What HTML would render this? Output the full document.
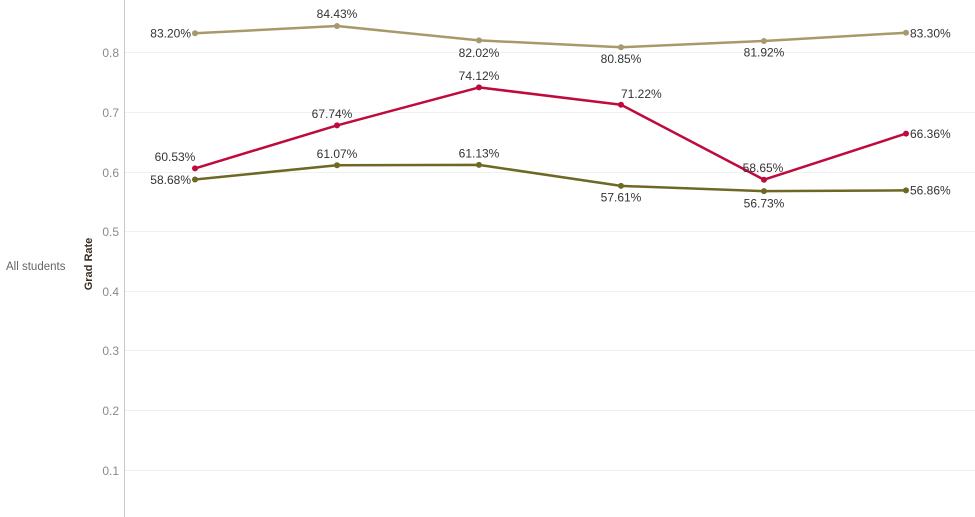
<!DOCTYPE html>
<html>
<head>
<meta charset="utf-8">
<style>
html,body{margin:0;padding:0;background:#fff;}
body{width:975px;height:517px;overflow:hidden;}
svg{display:block;font-family:"Liberation Sans",sans-serif;}
</style>
</head>
<body>
<svg width="975" height="517" viewBox="0 0 975 517" xmlns="http://www.w3.org/2000/svg">
  <!-- gridlines -->
  <g stroke="#f0f0f0" stroke-width="1">
    <line x1="125" y1="52.5" x2="975" y2="52.5"/>
    <line x1="125" y1="112.5" x2="975" y2="112.5"/>
    <line x1="125" y1="172.5" x2="975" y2="172.5"/>
    <line x1="125" y1="231.5" x2="975" y2="231.5"/>
    <line x1="125" y1="291.5" x2="975" y2="291.5"/>
    <line x1="125" y1="350.5" x2="975" y2="350.5"/>
    <line x1="125" y1="410.5" x2="975" y2="410.5"/>
    <line x1="125" y1="470.5" x2="975" y2="470.5"/>
  </g>
  <!-- axis -->
  <line x1="124.5" y1="0" x2="124.5" y2="517" stroke="#c8c8c8" stroke-width="1"/>
  <!-- tick labels -->
  <g fill="#8a8a8a" font-size="12" text-anchor="end">
    <text x="119" y="57">0.8</text>
    <text x="119" y="117">0.7</text>
    <text x="119" y="177">0.6</text>
    <text x="119" y="236">0.5</text>
    <text x="119" y="296">0.4</text>
    <text x="119" y="355">0.3</text>
    <text x="119" y="415">0.2</text>
    <text x="119" y="475">0.1</text>
  </g>
  <text x="6" y="270" fill="#666" font-size="11.5">All students</text>
  <text transform="translate(92,264) rotate(-90)" text-anchor="middle" fill="#3a2e22" font-size="11" font-weight="bold">Grad Rate</text>

  <!-- tan series -->
  <polyline fill="none" stroke="#a8996b" stroke-width="2.5" stroke-linejoin="round"
    points="195,33.3 337,26.0 479,40.4 621,47.3 764,41.0 906,32.7"/>
  <g fill="#a8996b">
    <circle cx="195" cy="33.3" r="3"/><circle cx="337" cy="26.0" r="3"/><circle cx="479" cy="40.4" r="3"/>
    <circle cx="621" cy="47.3" r="3"/><circle cx="764" cy="41.0" r="3"/><circle cx="906" cy="32.7" r="3"/>
  </g>
  <!-- olive series -->
  <polyline fill="none" stroke="#6e6825" stroke-width="2.5" stroke-linejoin="round"
    points="195,179.5 337,165.2 479,164.9 621,185.9 764,191.1 906,190.4"/>
  <g fill="#6e6825">
    <circle cx="195" cy="179.5" r="3"/><circle cx="337" cy="165.2" r="3"/><circle cx="479" cy="164.9" r="3"/>
    <circle cx="621" cy="185.9" r="3"/><circle cx="764" cy="191.1" r="3"/><circle cx="906" cy="190.4" r="3"/>
  </g>
  <!-- red series -->
  <polyline fill="none" stroke="#be0a3c" stroke-width="2.5" stroke-linejoin="round"
    points="195,168.4 337,125.4 479,87.4 621,104.7 764,179.7 906,133.6"/>
  <g fill="#be0a3c">
    <circle cx="195" cy="168.4" r="3"/><circle cx="337" cy="125.4" r="3"/><circle cx="479" cy="87.4" r="3"/>
    <circle cx="621" cy="104.7" r="3"/><circle cx="764" cy="179.7" r="3"/><circle cx="906" cy="133.6" r="3"/>
  </g>

  <!-- labels -->
  <g fill="#333" font-size="12">
    <!-- tan -->
    <text x="191" y="37.5" text-anchor="end">83.20%</text>
    <text x="337" y="18" text-anchor="middle">84.43%</text>
    <text x="479" y="57" text-anchor="middle">82.02%</text>
    <text x="621" y="63" text-anchor="middle">80.85%</text>
    <text x="764" y="56.5" text-anchor="middle">81.92%</text>
    <text x="910" y="37.5">83.30%</text>
    <!-- red -->
    <text x="175" y="161" text-anchor="middle">60.53%</text>
    <text x="332" y="118" text-anchor="middle">67.74%</text>
    <text x="479" y="80" text-anchor="middle">74.12%</text>
    <text x="621" y="98">71.22%</text>
    <text x="763" y="172" text-anchor="middle">58.65%</text>
    <text x="910" y="138">66.36%</text>
    <!-- olive -->
    <text x="191" y="184" text-anchor="end">58.68%</text>
    <text x="337" y="158" text-anchor="middle">61.07%</text>
    <text x="479" y="157.5" text-anchor="middle">61.13%</text>
    <text x="621" y="201.5" text-anchor="middle">57.61%</text>
    <text x="764" y="207.5" text-anchor="middle">56.73%</text>
    <text x="910" y="194.5">56.86%</text>
  </g>
</svg>
</body>
</html>
